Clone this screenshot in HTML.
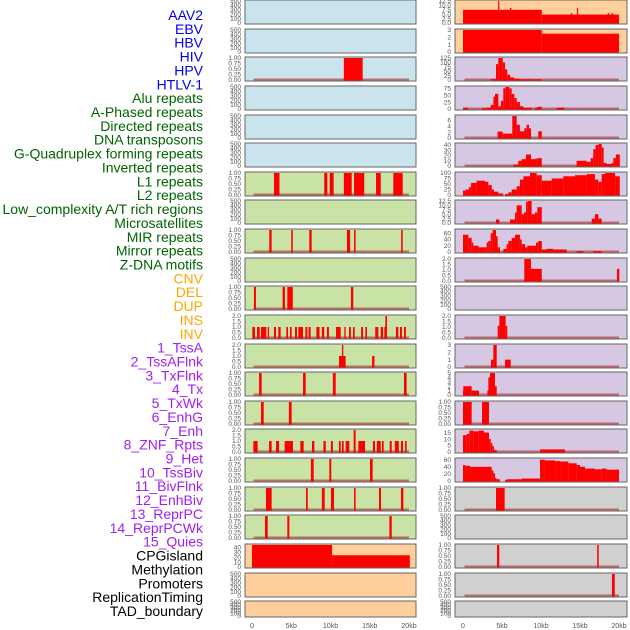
<!DOCTYPE html>
<html><head><meta charset="utf-8"><style>
html,body{margin:0;padding:0;background:#fff}
svg{display:block;font-family:"Liberation Sans",sans-serif}
</style></head><body>
<svg id="chart" width="630" height="630" viewBox="0 0 630 630" xmlns="http://www.w3.org/2000/svg"></svg>
<script>
const labels=["AAV2","EBV","HBV","HIV","HPV","HTLV-1","Alu repeats","A-Phased repeats","Directed repeats","DNA transposons","G-Quadruplex forming repeats","Inverted repeats","L1 repeats","L2 repeats","Low_complexity A/T rich regions","Microsatellites","MIR repeats","Mirror repeats","Z-DNA motifs","CNV","DEL","DUP","INS","INV","1_TssA","2_TssAFlnk","3_TxFlnk","4_Tx","5_TxWk","6_EnhG","7_Enh","8_ZNF_Rpts","9_Het","10_TssBiv","11_BivFlnk","12_EnhBiv","13_ReprPC","14_ReprPCWk","15_Quies","CPGisland","Methylation","Promoters","ReplicationTiming","TAD_boundary"];
const labelGroups=[0,0,0,0,0,0,1,1,1,1,1,1,1,1,1,1,1,1,1,2,2,2,2,2,3,3,3,3,3,3,3,3,3,3,3,3,3,3,3,4,4,4,4,4];
const xTickLabels=["0","5kb","10kb","15kb","20kb"];
const xTickValues=[0,5,10,15,20];
const E=[0,100,200,300,400,500], U=[0,0.25,0.5,0.75,1], T2=[0,0.5,1,1.5,2];
const leftTicks=[E,E,U,E,E,E,U,E,U,E,U,T2,T2,U,U,T2,U,U,U,[0,10,20,30,40],E,E];
const leftYMax=[500,500,1,500,500,500,1,500,1,500,1,2,2,1,1,2,1,1,1,45,500,500];
const leftBg=[0,0,0,0,0,0,1,1,1,1,1,1,1,1,1,1,1,1,1,2,2,2];
const leftSegs=[[],[],[[11.7,14.1,1]],[],[],[],
[[2.8,3.5,1],[9.2,9.6,1],[9.9,10.4,1],[11.7,12.7,1],[13.0,14.3,1],[15.8,16.4,1],[18.0,19.2,1]],
[],
[[2.2,2.5,1],[5.0,5.2,1],[7.3,7.6,1],[12.1,12.5,1],[13.0,13.2,1],[19.0,19.2,1]],
[],
[[0.25,0.5,1],[3.9,4.2,1],[4.5,5.2,1],[12.6,12.9,1]],
[[0.04,0.38,1],[0.64,0.98,1],[1.15,1.83,1],[2.0,2.17,1],[2.8,3.06,1],[3.35,3.65,1],[4.37,4.59,1],[4.84,5.05,1],[5.48,5.73,1],[5.9,6.5,1],[6.8,7.05,1],[7.2,7.47,1],[8.2,8.6,1],[8.9,9.2,1],[9.55,9.8,1],[10.7,11.3,1],[11.76,11.93,1],[12.36,12.6,1],[12.87,13.08,1],[13.9,14.14,1],[14.44,14.65,1],[15.7,16.1,1],[16.4,16.7,1],[16.86,16.99,1],[16.99,17.2,2],[18.34,18.64,1],[18.85,19.1,1],[19.36,19.6,1]],
[[11.08,11.93,1],[11.46,11.63,2],[15.3,15.6,1]],
[[0.9,1.23,1],[6.5,6.84,1],[10.3,10.66,1],[19.36,19.7,1]],
[[1.15,1.49,1],[4.7,5.05,1]],
[[0.17,0.72,1],[2.17,2.5,1],[3.06,3.44,1],[4.16,5.22,1],[6.16,6.58,1],[7.64,7.94,1],[9.1,9.4,1],[10.06,10.3,1],[11.08,11.3,1],[11.46,11.68,1],[11.93,12.4,1],[12.95,13.2,2],[13.55,14.4,1],[15.4,15.67,1],[15.9,16.4,1],[16.56,16.77,1],[17.54,17.8,1],[18.2,18.7,1],[18.98,19.24,1],[19.5,19.7,1]],
[[7.5,7.86,1],[9.85,10.1,1],[15.03,15.37,1]],
[[1.78,2.5,1],[6.88,7.1,1],[8.9,9.26,1],[10.06,10.45,1],[13.0,13.2,1],[16.18,16.43,1],[18.98,19.28,1]],
[[1.66,2.0,1],[4.5,4.76,1],[17.5,17.8,1]],
[[0,10.2,45],[10.2,20.1,24]],
[],[]];
const leftBase=[0,0,1,0,0,0,1,0,1,0,1,1,1,1,1,1,1,1,1,0,0,0];
const rightTicks=[[0,2.5,5,7.5,10,12.5],[0,1,2,3],[0,25,50,75,100,125],[0,25,50,75],[0,2,4,6],[0,10,20,30,40],[0,25,50,75,100],[0,2.5,5,7.5,10,12.5],[0,20,40,60],T2,E,T2,[0,1,2,3],[0,1,2,3,4,5],U,[0,5,10,15],[0,20,40,60],U,E,U,U,E];
const rightYMax=[12.5,3,125,80,7.5,42,100,12.5,70,2,500,2,3,5,1,17,62,1,500,1,1,500];
const rightBg=[2,2,3,3,3,3,3,3,3,3,3,3,3,3,3,3,3,4,4,4,4,4];
const rightSegs=[
[[0,10.1,7.5],[10.1,20.0,4.8],[4.5,4.66,12.5],[6.0,6.2,8.6],[13.85,14.0,5.7],[14.6,14.75,8.6],[18.55,18.7,5.7],[19.06,19.2,5.7]],
[[0,10.1,3],[10.1,20.0,2.5]],
[[3.6,4.23,5],[4.23,4.53,90],[4.53,5.09,125],[5.09,5.38,100],[5.38,5.68,60],[5.68,6.03,30],[6.03,6.54,15],[6.54,7.3,8],[7.3,9.2,4],[9.3,10.1,4]],
[[0,0.64,5],[2.44,3.03,3],[3.03,3.55,5],[3.55,3.9,15],[3.9,4.1,45],[4.1,4.53,55],[4.53,4.87,10],[4.87,5.17,30],[5.17,5.43,75],[5.43,5.94,80],[5.94,6.24,75],[6.24,6.58,55],[6.58,6.88,40],[6.88,7.3,25],[7.3,7.74,10],[7.74,8.8,5],[9.23,9.53,5],[9.53,10.1,8],[12.0,13.0,5]],
[[4.44,5.09,2.2],[5.09,6.32,1.5],[6.32,6.88,7.5],[6.88,7.3,4.5],[7.3,7.86,2.3],[7.86,8.16,3.3],[8.16,8.46,4.5],[8.46,8.72,3.3],[9.66,10.1,2.3]],
[[6.45,7.09,3],[7.09,7.52,10],[7.52,8.08,13],[8.08,8.72,22],[8.72,9.23,13],[9.23,9.53,14],[9.53,10.1,15],[14.57,15.85,10],[15.85,16.37,8],[16.37,16.7,15],[16.7,17.0,32],[17.0,17.35,40],[17.35,17.78,42],[17.78,18.03,35],[18.03,18.4,6],[18.4,19.06,4],[19.06,19.27,6],[19.27,19.6,15],[19.6,20.1,22]],
[[0,0.34,20],[0.34,0.77,25],[0.77,1.03,35],[1.03,1.75,55],[1.75,2.82,65],[2.82,3.25,60],[3.25,3.68,45],[3.68,3.97,25],[3.97,4.53,15],[4.53,5.17,7],[5.38,5.81,5],[5.81,6.24,12],[6.24,6.88,25],[6.88,7.3,40],[7.3,7.74,70],[7.74,8.59,85],[8.59,9.44,100],[9.44,10.1,90],[10.1,11.37,65],[11.37,12.86,75],[12.86,14.36,85],[14.36,15.85,90],[15.85,16.92,95],[16.92,17.35,70],[17.35,17.78,60],[17.78,18.2,95],[18.2,19.5,100],[19.5,20.1,85]],
[[4.23,4.66,2],[6.03,6.67,2],[6.67,6.88,6],[6.88,7.52,10],[7.52,7.82,5],[7.82,8.08,6],[8.08,8.29,12],[8.29,8.8,13],[8.8,9.23,5],[9.23,9.53,6],[9.53,10.1,9],[16.5,16.92,2.5],[16.92,17.35,5],[17.35,17.78,2.5]],
[[0,0.68,55],[0.68,1.11,45],[1.11,1.32,30],[1.32,1.97,20],[1.97,3.03,15],[3.03,3.25,30],[3.25,3.55,35],[3.55,3.8,60],[3.8,4.23,70],[4.23,4.44,50],[4.44,4.74,15],[5.17,5.6,10],[5.6,5.81,25],[5.81,6.24,35],[6.24,6.67,45],[6.67,7.3,55],[7.3,7.52,40],[7.52,7.95,25],[7.95,8.25,15],[8.25,9.36,20],[9.36,9.66,30],[9.66,10.1,35],[10.1,10.7,8],[10.7,11.58,10],[11.58,13.3,8],[14.57,15.43,3],[16.7,17.78,3]],
[[7.86,8.72,2],[8.72,10.1,1.1],[19.74,20.04,1.1]],
[],
[[4.44,4.66,1.1],[4.66,5.47,2],[5.47,5.68,1.1]],
[[3.59,3.89,1],[3.89,4.32,3],[5.38,6.11,1]],
[[0,0.04,1],[0.04,1.11,2],[1.11,2.05,1],[3.12,3.25,1],[3.25,3.46,4],[3.46,4.1,5],[4.1,4.32,2]],
[[0,1.11,1],[2.44,3.33,1]],
[[0,0.47,13],[0.47,0.81,14],[0.81,1.32,16.5],[1.32,1.97,16],[1.97,2.69,16.5],[2.69,3.33,15],[3.33,3.55,10],[3.55,3.76,7],[3.76,3.97,4.5],[3.97,4.32,1.5],[9.87,13.08,2]],
[[0,0.26,45],[0.26,0.9,43],[0.9,3.68,40],[3.68,3.89,30],[3.89,4.1,22],[4.1,4.32,8],[4.32,4.74,5],[5.38,5.6,3],[5.6,7.52,5],[7.52,9.87,7],[9.87,10.5,60],[10.5,11.8,58],[11.8,12.44,56],[12.44,13.5,55],[13.5,14.57,50],[14.57,15.0,45],[15.0,15.64,40],[15.64,16.92,35],[16.92,17.78,33],[17.78,18.4,35],[18.4,20.0,32]],
[[4.23,5.34,1]],
[],
[[4.36,4.65,1],[17.2,17.4,1]],
[[19.1,19.45,1]],
[]];
const rightBase=[0,0,1,1,1,1,0,1,1,1,0,1,1,1,1,1,0,1,0,1,1,0];

const NS="http://www.w3.org/2000/svg";
const svg=document.getElementById('chart');
function mk(tag,attrs,parent){const e=document.createElementNS(NS,tag);for(const k in attrs)e.setAttribute(k,attrs[k]);(parent||svg).appendChild(e);return e;}
const rowTops=[0,29,57,86,115,143,172,200,229,258,286,315,344,372,401,429,458,487,515,544,573,601];
const bgColors=["#c9e4ec","#c9e2a5","#fecf9d","#d6c7e3","#d0d0d0"];
const groupColors=["#0000ee","#006400","#ffa500","#a020f0","#000000"];
const cols=[{x0:245,x1:416,z:252,s:7.85},{x0:455,x1:627,z:463,s:7.8}];
function xs(c,kb){return c.z+kb*c.s;}
function fmt(v,ticks){const dec=ticks.some(t=>t%1!==0);if(!dec)return String(v);const need2=ticks.some(t=>Math.round(t*100)%50!==0);return v.toFixed(need2?2:1);}

// labels
labels.forEach((t,i)=>{
  const e=mk('text',{x:203,y:20+i*13.86,'text-anchor':'end','font-size':'14',fill:groupColors[labelGroups[i]]});
  e.textContent=t;
  
  
});

function panel(ci,r,ticks,ymax,bg,segs,base){
  const c=cols[ci];
  const top=rowTops[r], bot=(r===21?617:top+24);
  const g=mk('g',{});
  
  
  const rect=mk('rect',{x:c.x0,y:top,width:c.x1-c.x0,height:bot-top,fill:bgColors[bg],stroke:'#666','stroke-width':1},g);
  
  
  const y0=bot-1, yt=top+1;
  const ys=v=>y0-(Math.min(v,ymax)/ymax)*(y0-yt);
  if(base){
    const b=mk('line',{x1:xs(c,0.2),x2:xs(c,20),y1:y0-0.5,y2:y0-0.5,stroke:'rgba(170,40,40,0.6)','stroke-width':2},g);
    
    
  }
  segs.forEach(s=>{
    const x=xs(c,s[0]), w=Math.max(1.2,xs(c,s[1])-x), y=ys(s[2]);
    const m=mk('rect',{x:x,y:y,width:w,height:y0-y+0.5,fill:'#ff0000'},g);
    
    
  });
  ticks.forEach(t=>{
    const tx=mk('text',{x:c.x0-4,y:ys(t)+2.2,'text-anchor':'end','font-size':'6.5',fill:'#555'},g);
    tx.textContent=fmt(t,ticks);
    
    
  });
}
for(let r=0;r<22;r++){
  panel(0,r,leftTicks[r],leftYMax[r],leftBg[r],leftSegs[r],leftBase[r]);
  panel(1,r,rightTicks[r],rightYMax[r],rightBg[r],rightSegs[r],rightBase[r]);
}
cols.forEach((c,ci)=>{
  xTickValues.forEach((v,i)=>{
    const t=mk('text',{x:xs(c,v),y:628,'text-anchor':'middle','font-size':'7',fill:'#555'});
    t.textContent=xTickLabels[i];
    
    
  });
});
</script>
</body></html>
